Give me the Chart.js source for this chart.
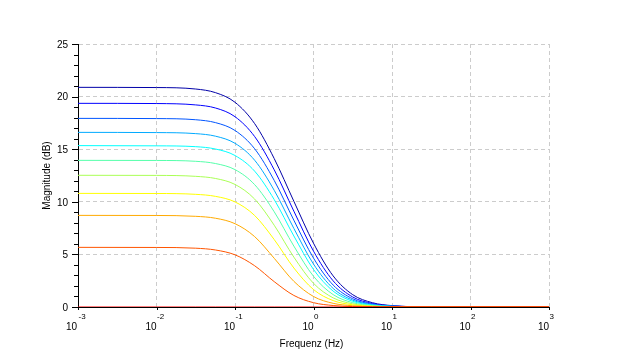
<!DOCTYPE html>
<html>
<head>
<meta charset="utf-8">
<script src="https://cdn.jsdelivr.net/npm/chart.js@4/dist/chart.umd.min.js"></script>
<style>
  body { margin: 0; background: #fff; }
  #wrap { width: 628px; height: 351px; }
</style>
</head>
<body>
<div id="wrap"><canvas id="bode"></canvas></div>
<script>
// frequency points (Hz), read along the log axis
const freqs = [0.001, 0.01, 0.0316, 0.0562, 0.1, 0.178, 0.316, 0.562, 1, 1.778, 3.162, 5.623, 10, 31.6, 100, 1000];

// magnitude in dB, one curve per array, from the top curve down
const mag1  = [20.88, 20.86, 20.72, 20.38, 19.46, 17.43, 14.11, 10.05, 6.06, 2.96, 1.17, 0.41, 0.13, 0.01, 0, 0];
const mag2  = [19.36, 19.34, 19.21, 18.92, 18.09, 16.20, 13.04, 9.11, 5.31, 2.49, 0.95, 0.33, 0.11, 0.01, 0, 0];
const mag3  = [17.93, 17.91, 17.80, 17.53, 16.78, 15.04, 12.03, 8.25, 4.65, 2.09, 0.78, 0.26, 0.09, 0.01, 0, 0];
const mag4  = [16.60, 16.58, 16.48, 16.24, 15.56, 13.95, 11.09, 7.47, 4.08, 1.77, 0.65, 0.22, 0.07, 0.01, 0, 0];
const mag5  = [15.34, 15.32, 15.24, 15.02, 14.40, 12.91, 10.21, 6.75, 3.57, 1.51, 0.54, 0.18, 0.06, 0.01, 0, 0];
const mag6  = [13.94, 13.93, 13.85, 13.64, 13.06, 11.63, 9.05, 5.79, 2.92, 1.18, 0.41, 0.14, 0.04, 0, 0, 0];
const mag7  = [12.52, 12.51, 12.42, 12.22, 11.65, 10.26, 7.77, 4.74, 2.25, 0.87, 0.30, 0.10, 0.03, 0, 0, 0];
const mag8  = [10.80, 10.79, 10.71, 10.52, 9.99, 8.70, 6.41, 3.71, 1.66, 0.61, 0.21, 0.07, 0.02, 0, 0, 0];
const mag9  = [8.71, 8.70, 8.62, 8.44, 7.92, 6.69, 4.63, 2.44, 1.00, 0.35, 0.12, 0.04, 0.01, 0, 0, 0];
const mag10 = [5.67, 5.66, 5.59, 5.42, 4.96, 3.92, 2.41, 1.10, 0.41, 0.14, 0.04, 0.01, 0, 0, 0, 0];
const mag11 = [0, 0, 0, 0, 0, 0, 0, 0, 0, 0, 0, 0, 0, 0, 0, 0];

const curves = [mag11, mag10, mag9, mag8, mag7, mag6, mag5, mag4, mag3, mag2, mag1];
const colors = ['#ff0000', '#ff5500', '#ffaa00', '#ffff00', '#aaff55', '#55ffaa',
                '#00ffff', '#00aaff', '#0055ff', '#0000ff', '#0000a8'];

// axis ticks
const xTickExps = [-3, -2, -1, 0, 1, 2, 3];
const yTickVals = [0, 5, 10, 15, 20, 25];

const FONT = '"Liberation Sans", Arial, sans-serif';

const axisDecor = {
    id: 'axisDecor',
    afterDraw(chart) {
        const ctx = chart.ctx;
        const xs = chart.scales.x, ys = chart.scales.y;
        const a = chart.chartArea;
        ctx.save();
        ctx.strokeStyle = '#000';
        ctx.lineWidth = 1;
        ctx.beginPath();
        // y ticks, minor every 1, major every 5
        for (let v = 0; v <= 25; v++) {
            const py = Math.round(ys.getPixelForValue(v)) + 0.5;
            const len = v % 5 === 0 ? 6 : 4;
            ctx.moveTo(a.left - len, py);
            ctx.lineTo(a.left, py);
        }
        // x ticks
        xTickExps.forEach(e => {
            const px = Math.round(xs.getPixelForValue(Math.pow(10, e))) + 0.5;
            ctx.moveTo(px, a.bottom);
            ctx.lineTo(px, a.bottom + 3);
        });
        ctx.stroke();

        ctx.fillStyle = '#000';
        ctx.font = '10px ' + FONT;
        ctx.textAlign = 'right';
        ctx.textBaseline = 'middle';
        yTickVals.forEach(v => {
            ctx.fillText(String(v), a.left - 10, ys.getPixelForValue(v) + 1);
        });

        xTickExps.forEach((e, i) => {
            const px = xs.getPixelForValue(Math.pow(10, e));
            ctx.font = '10px ' + FONT;
            ctx.textAlign = 'right';
            ctx.fillText('10', px - (i === 0 ? 1 : 0), 327);
            ctx.font = '8px ' + FONT;
            ctx.textAlign = 'left';
            ctx.fillText(String(e), px + 0.5, 317);
        });

        ctx.font = '10px ' + FONT;
        ctx.textAlign = 'center';
        ctx.fillText('Frequenz (Hz)', (a.left + a.right) / 2 - 2, 344);

        ctx.translate(47, (a.top + a.bottom) / 2);
        ctx.rotate(-Math.PI / 2);
        ctx.fillText('Magnitude (dB)', 0, 0);
        ctx.restore();
    }
};

const gridColor = '#cccccc';

new Chart(document.getElementById('bode'), {
    type: 'line',
    data: {
        datasets: curves.map((c, i) => ({
            data: freqs.map((f, j) => ({ x: f, y: c[j] })),
            borderColor: colors[i],
            borderWidth: 1,
            pointRadius: 0,
            fill: false,
            cubicInterpolationMode: 'monotone'
        }))
    },
    options: {
        responsive: true,
        maintainAspectRatio: false,
        animation: false,
        layout: { padding: { left: 78, right: 79, top: 44, bottom: 44 } },
        plugins: { legend: { display: false }, tooltip: { enabled: false } },
        scales: {
            x: {
                type: 'logarithmic',
                min: 1e-3,
                max: 1e3,
                afterBuildTicks: (scale) => {
                    scale.ticks = xTickExps.map(e => ({ value: Math.pow(10, e) }));
                },
                ticks: { display: false },
                grid: {
                    drawTicks: false,
                    color: (ctx) => (ctx.tick && ctx.tick.value <= 1e-3 ? 'rgba(0,0,0,0)' : gridColor)
                },
                border: { display: true, color: '#000', width: 1, dash: [4, 3] }
            },
            y: {
                min: 0,
                max: 25,
                ticks: { display: false, stepSize: 5 },
                grid: {
                    drawTicks: false,
                    color: (ctx) => (ctx.tick && ctx.tick.value === 0 ? 'rgba(0,0,0,0)' : gridColor)
                },
                border: { display: true, color: '#000', width: 1, dash: [4, 3] }
            }
        }
    },
    plugins: [axisDecor]
});
</script>
</body>
</html>
